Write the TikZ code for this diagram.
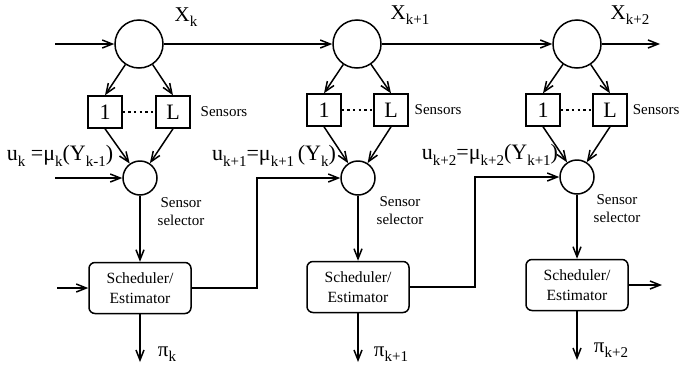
\documentclass[tikz,border=0pt]{standalone}
\usepackage{fontspec}
\setmainfont{Liberation Serif}
\usetikzlibrary{arrows.meta}
% lowered index, set smaller
\newcommand{\dn}[1]{\raisebox{-0.55ex}{\fontsize{7.5}{8}\selectfont #1}}

\tikzset{
  state/.style={draw, circle, minimum size=24pt, inner sep=0pt},
  sel/.style={draw, circle, minimum size=17pt, inner sep=0pt},
  sensor/.style={draw, minimum width=17pt, minimum height=16pt, inner sep=0pt, font=\fontsize{11}{12}\selectfont},
  sched/.style={draw, rounded corners=3pt, minimum width=51pt, minimum height=25.5pt, align=center, inner sep=0pt, font=\fontsize{7.8}{10}\selectfont},
  note/.style={font=\fontsize{7.5}{9}\selectfont, align=center, inner sep=0pt},
  lbl/.style={font=\fontsize{10.5}{11}\selectfont, inner sep=0pt},
  ulbl/.style={font=\fontsize{11}{12}\selectfont, inner sep=0pt},
  arr/.style={-{Straight Barb[length=5pt,width=4pt]}},
  dots/.style={line width=1.1pt, dash pattern=on 1.2pt off 1.6pt}
}

\begin{document}
\begin{tikzpicture}[x=0.5pt, y=-0.5pt, line width=0.75pt]
		%%%%% START %%%%%
		\useasboundingbox (0,0) rectangle (679,370);
		
		% stage k
		\node[state] (x1) at (139,44) {};
		\node[sensor] (a1) at (105,112) {1};
		\node[sensor] (b1) at (173,112) {L};
		\node[sel] (s1) at (140,178) {};
		\node[sched] (e1) at (140,288) {Scheduler/\\Estimator};
		\coordinate (in1) at (55,44);
		\coordinate (u1) at (55,178);
		\coordinate (w1) at (57,288);
		\coordinate (p1) at (140,362);
		
		\draw[arr] (in1) -- (x1);
		\draw[arr] (x1) -- (a1.north);
		\draw[arr] (x1) -- (b1.north);
		\draw[dots] (a1) -- (b1);
		\draw[arr] (a1.south) -- (s1);
		\draw[arr] (b1.south) -- (s1);
		\draw[arr] (u1) -- (s1);
		\draw[arr] (s1) -- (e1);
		\draw[arr] (w1) -- (e1);
		\draw[arr] (e1) -- (p1);
		
		\node[lbl] (xl1) at (186,17) {X\dn{k}};
		\node[note] (sn1) at (224,112) {Sensors};
		\node[ulbl] (ul1) at (60,156) {u\dn{k} =μ\dn{k}(Y\dn{k-1})};
		\node[note] (sl1) at (181,212) {Sensor\\selector};
		\node[lbl] (pl1) at (167,354) {π\dn{k}};
		
		% stage k+1
		\node[state] (x2) at (357,44) {};
		\node[sensor] (a2) at (324,110) {1};
		\node[sensor] (b2) at (391,110) {L};
		\node[sel] (s2) at (358,178) {};
		\node[sched] (e2) at (358,287) {Scheduler/\\Estimator};
		\coordinate (c2) at (257,178);
		\coordinate (p2) at (358,362);
		
		\draw[arr] (x1) -- (x2);
		\draw[arr] (x2) -- (a2.north);
		\draw[arr] (x2) -- (b2.north);
		\draw[dots] (a2) -- (b2);
		\draw[arr] (a2.south) -- (s2);
		\draw[arr] (b2.south) -- (s2);
		\draw[arr] (e1) -| (c2) -- (s2);
		\draw[arr] (s2) -- (e2);
		\draw[arr] (e2) -- (p2);
		
		\node[lbl] (xl2) at (410,15) {X\dn{k+1}};
		\node[note] (sn2) at (438,110) {Sensors};
		\node[ulbl] (ul2) at (274,156) {u\dn{k+1}=μ\dn{k+1}\,(Y\dn{k})};
		\node[note] (sl2) at (400,211) {Sensor\\selector};
		\node[lbl] (pl2) at (391,354) {π\dn{k+1}};
		
		% stage k+2
		\node[state] (x3) at (577,44) {};
		\node[sensor] (a3) at (543,110) {1};
		\node[sensor] (b3) at (610,110) {L};
		\node[sel] (s3) at (577,177) {};
		\node[sched] (e3) at (577,285) {Scheduler/\\Estimator};
		\coordinate (c3) at (475,177);
		\coordinate (p3) at (577,360);
		\coordinate (xo) at (660,44);
		\coordinate (eo) at (662,285);
		
		\draw[arr] (x2) -- (x3);
		\draw[arr] (x3) -- (xo);
		\draw[arr] (x3) -- (a3.north);
		\draw[arr] (x3) -- (b3.north);
		\draw[dots] (a3) -- (b3);
		\draw[arr] (a3.south) -- (s3);
		\draw[arr] (b3.south) -- (s3);
		\draw[arr] (e2) -| (c3) -- (s3);
		\draw[arr] (s3) -- (e3);
		\draw[arr] (e3) -- (eo);
		\draw[arr] (e3) -- (p3);
		
		\node[lbl] (xl3) at (630,15) {X\dn{k+2}};
		\node[note, anchor=west] (sn3) at (632,110) {Sensors};
		\node[ulbl] (ul3) at (490,155) {u\dn{k+2}=μ\dn{k+2}(Y\dn{k+1})};
		\node[note] (sl3) at (617,209) {Sensor\\selector};
		\node[lbl] (pl3) at (611,350) {π\dn{k+2}};
		
		%%%%% END %%%%%
\end{tikzpicture}
\end{document}
